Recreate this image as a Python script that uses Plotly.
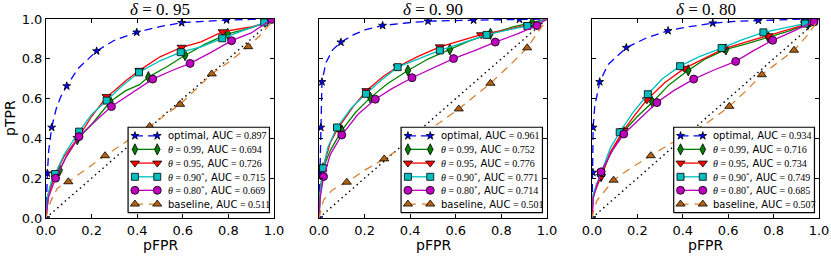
import plotly.graph_objects as go

# ---------------- data ----------------
deltas = ["0.95", "0.90", "0.80"]
series_names = ["optimal", "θ=0.99", "θ=0.95", "θ=0.90*", "θ=0.80*", "baseline"]

auc_p1 = ["0.897", "0.694", "0.726", "0.715", "0.669", "0.511"]
auc_p2 = ["0.961", "0.752", "0.776", "0.771", "0.714", "0.501"]
auc_p3 = ["0.934", "0.716", "0.734", "0.749", "0.685", "0.507"]

# ---- panel 1 (delta = 0.95) ----
p1_opt_x = [0, 0.002, 0.006, 0.012, 0.025, 0.045, 0.065, 0.091, 0.14, 0.222, 0.3, 0.398, 0.5, 0.595, 0.7, 0.792, 0.9, 1.0]
p1_opt_y = [0, 0.12, 0.225, 0.34, 0.455, 0.55, 0.61, 0.663, 0.75, 0.839, 0.893, 0.933, 0.962, 0.981, 0.99, 0.995, 0.998, 1.0]
p1_opt_mx = [0, 0.006, 0.025, 0.091, 0.222, 0.398, 0.595, 0.792]
p1_opt_my = [0, 0.225, 0.455, 0.663, 0.839, 0.933, 0.981, 0.995]

p1_g_x = [0, 0.01, 0.03, 0.06, 0.09, 0.137, 0.2, 0.282, 0.35, 0.41, 0.449, 0.53, 0.61, 0.7, 0.797, 0.9, 1.0]
p1_g_y = [0, 0.12, 0.2, 0.24, 0.31, 0.396, 0.47, 0.585, 0.64, 0.67, 0.708, 0.76, 0.818, 0.875, 0.925, 0.955, 1.0]
p1_g_mx = [0.06, 0.137, 0.282, 0.449, 0.61, 0.797]
p1_g_my = [0.24, 0.396, 0.585, 0.708, 0.818, 0.925]

p1_r_x = [0, 0.01, 0.04, 0.08, 0.139, 0.2, 0.266, 0.3, 0.35, 0.41, 0.5, 0.595, 0.68, 0.775, 0.9, 0.95, 1.0]
p1_r_y = [0, 0.11, 0.22, 0.31, 0.40, 0.51, 0.61, 0.64, 0.69, 0.742, 0.81, 0.858, 0.885, 0.936, 0.96, 0.975, 1.0]
p1_r_mx = [0.04, 0.139, 0.266, 0.41, 0.595, 0.775]
p1_r_my = [0.22, 0.40, 0.61, 0.742, 0.858, 0.936]

p1_c_x = [0, 0.005, 0.02, 0.04, 0.08, 0.145, 0.2, 0.266, 0.33, 0.408, 0.5, 0.591, 0.68, 0.773, 0.88, 0.957, 1.0]
p1_c_y = [0, 0.1, 0.17, 0.221, 0.32, 0.434, 0.52, 0.59, 0.66, 0.732, 0.79, 0.833, 0.86, 0.903, 0.95, 0.983, 1.0]
p1_c_mx = [0.04, 0.145, 0.266, 0.408, 0.591, 0.773, 0.957]
p1_c_my = [0.221, 0.434, 0.59, 0.732, 0.833, 0.903, 0.983]

p1_m_x = [0, 0.01, 0.042, 0.09, 0.145, 0.2, 0.287, 0.38, 0.468, 0.55, 0.632, 0.72, 0.814, 0.9, 0.99, 1.0]
p1_m_y = [0, 0.1, 0.2, 0.31, 0.409, 0.47, 0.56, 0.63, 0.698, 0.74, 0.777, 0.83, 0.891, 0.93, 0.998, 1.0]
p1_m_mx = [0.042, 0.145, 0.287, 0.468, 0.632, 0.814, 0.99]
p1_m_my = [0.2, 0.409, 0.56, 0.698, 0.777, 0.891, 0.998]

p1_b_x = [0, 0.01, 0.023, 0.05, 0.098, 0.18, 0.259, 0.36, 0.455, 0.52, 0.588, 0.66, 0.727, 0.81, 0.887, 0.95, 1.0]
p1_b_y = [0, 0.05, 0.09, 0.15, 0.182, 0.25, 0.313, 0.39, 0.46, 0.515, 0.571, 0.65, 0.724, 0.79, 0.861, 0.93, 1.0]
p1_b_mx = [0.098, 0.259, 0.455, 0.588, 0.727, 0.887]
p1_b_my = [0.182, 0.313, 0.46, 0.571, 0.724, 0.861]

# ---- panel 2 (delta = 0.90) ----
p2_opt_x = [0, 0.003, 0.005, 0.008, 0.013, 0.03, 0.06, 0.096, 0.15, 0.2, 0.279, 0.38, 0.478, 0.678, 0.879, 1.0]
p2_opt_y = [0, 0.15, 0.229, 0.455, 0.684, 0.78, 0.845, 0.883, 0.92, 0.945, 0.967, 0.98, 0.989, 0.994, 0.998, 1.0]
p2_opt_mx = [0, 0.005, 0.008, 0.013, 0.096, 0.279, 0.478, 0.678, 0.879]
p2_opt_my = [0, 0.229, 0.455, 0.684, 0.883, 0.967, 0.989, 0.994, 0.998]

p2_g_x = [0, 0.005, 0.018, 0.05, 0.1, 0.16, 0.225, 0.3, 0.39, 0.48, 0.574, 0.66, 0.752, 0.85, 0.935, 1.0]
p2_g_y = [0, 0.12, 0.25, 0.34, 0.44, 0.53, 0.605, 0.675, 0.741, 0.8, 0.847, 0.89, 0.926, 0.96, 0.982, 1.0]
p2_g_mx = [0.018, 0.1, 0.225, 0.39, 0.574, 0.752, 0.935]
p2_g_my = [0.25, 0.44, 0.605, 0.741, 0.847, 0.926, 0.982]

p2_r_x = [0, 0.005, 0.018, 0.05, 0.083, 0.15, 0.208, 0.28, 0.345, 0.43, 0.53, 0.62, 0.711, 0.82, 0.915, 1.0]
p2_r_y = [0, 0.13, 0.255, 0.38, 0.45, 0.56, 0.64, 0.71, 0.76, 0.81, 0.86, 0.89, 0.921, 0.945, 0.97, 1.0]
p2_r_mx = [0.018, 0.083, 0.208, 0.345, 0.53, 0.711, 0.915]
p2_r_my = [0.255, 0.45, 0.64, 0.76, 0.86, 0.921, 0.97]

p2_c_x = [0, 0.005, 0.018, 0.04, 0.079, 0.14, 0.206, 0.27, 0.345, 0.44, 0.53, 0.63, 0.735, 0.83, 0.914, 1.0]
p2_c_y = [0, 0.13, 0.25, 0.36, 0.455, 0.55, 0.624, 0.69, 0.758, 0.8, 0.842, 0.88, 0.92, 0.945, 0.965, 1.0]
p2_c_mx = [0.018, 0.079, 0.206, 0.345, 0.53, 0.735, 0.914]
p2_c_my = [0.25, 0.455, 0.624, 0.758, 0.842, 0.92, 0.965]

p2_m_x = [0, 0.005, 0.02, 0.05, 0.1, 0.17, 0.247, 0.32, 0.408, 0.5, 0.59, 0.68, 0.773, 0.87, 0.956, 1.0]
p2_m_y = [0, 0.1, 0.208, 0.32, 0.417, 0.52, 0.597, 0.65, 0.705, 0.755, 0.801, 0.84, 0.884, 0.925, 0.967, 1.0]
p2_m_mx = [0.02, 0.1, 0.247, 0.408, 0.59, 0.773, 0.956]
p2_m_my = [0.208, 0.417, 0.597, 0.705, 0.801, 0.884, 0.967]

p2_b_x = [0, 0.01, 0.02, 0.057, 0.122, 0.2, 0.286, 0.37, 0.45, 0.53, 0.613, 0.68, 0.752, 0.83, 0.913, 1.0]
p2_b_y = [0, 0.05, 0.09, 0.14, 0.18, 0.24, 0.297, 0.36, 0.42, 0.48, 0.548, 0.61, 0.677, 0.76, 0.855, 1.0]
p2_b_mx = [0.122, 0.286, 0.45, 0.613, 0.752, 0.913]
p2_b_my = [0.18, 0.297, 0.42, 0.548, 0.677, 0.855]

# ---- panel 3 (delta = 0.80) ----
p3_opt_x = [0, 0.002, 0.004, 0.005, 0.012, 0.034, 0.07, 0.151, 0.24, 0.335, 0.43, 0.532, 0.63, 0.733, 0.83, 0.93, 1.0]
p3_opt_y = [0, 0.12, 0.229, 0.455, 0.56, 0.684, 0.77, 0.856, 0.905, 0.941, 0.962, 0.979, 0.988, 0.993, 0.998, 1.0, 1.0]
p3_opt_mx = [0, 0.004, 0.005, 0.034, 0.151, 0.335, 0.532, 0.733, 0.93]
p3_opt_my = [0, 0.229, 0.455, 0.684, 0.856, 0.941, 0.979, 0.993, 1.0]

p3_g_x = [0, 0.005, 0.02, 0.04, 0.08, 0.139, 0.2, 0.266, 0.34, 0.424, 0.5, 0.59, 0.68, 0.777, 0.87, 0.952, 1.0]
p3_g_y = [0, 0.1, 0.17, 0.21, 0.32, 0.435, 0.51, 0.582, 0.67, 0.742, 0.8, 0.847, 0.875, 0.908, 0.94, 0.975, 1.0]
p3_g_mx = [0.04, 0.139, 0.266, 0.424, 0.59, 0.777, 0.952]
p3_g_my = [0.21, 0.435, 0.582, 0.742, 0.847, 0.908, 0.975]

p3_r_x = [0, 0.005, 0.04, 0.08, 0.139, 0.19, 0.242, 0.32, 0.407, 0.49, 0.58, 0.68, 0.776, 0.87, 0.95, 1.0]
p3_r_y = [0, 0.11, 0.209, 0.33, 0.44, 0.52, 0.594, 0.68, 0.752, 0.8, 0.85, 0.885, 0.916, 0.95, 0.975, 1.0]
p3_r_mx = [0.04, 0.139, 0.242, 0.407, 0.58, 0.776, 0.95]
p3_r_my = [0.209, 0.44, 0.594, 0.752, 0.85, 0.916, 0.975]

p3_c_x = [0, 0.005, 0.04, 0.08, 0.122, 0.18, 0.246, 0.31, 0.388, 0.47, 0.571, 0.66, 0.755, 0.85, 0.938, 1.0]
p3_c_y = [0, 0.12, 0.226, 0.35, 0.431, 0.53, 0.622, 0.7, 0.763, 0.81, 0.854, 0.895, 0.933, 0.955, 0.977, 1.0]
p3_c_mx = [0.04, 0.122, 0.246, 0.388, 0.571, 0.755, 0.938]
p3_c_my = [0.226, 0.431, 0.622, 0.763, 0.854, 0.933, 0.977]

p3_m_x = [0, 0.005, 0.04, 0.09, 0.14, 0.21, 0.286, 0.36, 0.448, 0.54, 0.633, 0.71, 0.796, 0.89, 0.978, 1.0]
p3_m_y = [0, 0.1, 0.232, 0.34, 0.422, 0.5, 0.58, 0.64, 0.698, 0.745, 0.787, 0.84, 0.893, 0.94, 0.985, 1.0]
p3_m_mx = [0.04, 0.14, 0.286, 0.448, 0.633, 0.796, 0.978]
p3_m_my = [0.232, 0.422, 0.58, 0.698, 0.787, 0.893, 0.985]

p3_b_x = [0, 0.01, 0.023, 0.057, 0.095, 0.17, 0.259, 0.34, 0.42, 0.51, 0.605, 0.68, 0.748, 0.82, 0.89, 0.95, 1.0]
p3_b_y = [0, 0.05, 0.09, 0.14, 0.19, 0.25, 0.313, 0.37, 0.42, 0.48, 0.561, 0.64, 0.72, 0.78, 0.843, 0.92, 1.0]
p3_b_mx = [0.095, 0.259, 0.42, 0.605, 0.748, 0.89]
p3_b_my = [0.19, 0.313, 0.42, 0.561, 0.72, 0.843]

diag = [0, 1]
ticks = [0, 0.2, 0.4, 0.6, 0.8, 1.0]
tick_text = ["0.0", "0.2", "0.4", "0.6", "0.8", "1.0"]

# ---------------- styles ----------------
W, H = 831, 256
SERIF = "Liberation Serif"
SANS = "DejaVu Sans"
styles = [
    dict(color="#0000ff", dash="8px,5px", symbol="star", msize=6, mcolor="#0000ff"),
    dict(color="#008000", dash="solid", symbol="diamond-tall", msize=8, mcolor="#008000"),
    dict(color="#ff0000", dash="solid", symbol="triangle-down", msize=8, mcolor="#ff0000"),
    dict(color="#00bfbf", dash="solid", symbol="square", msize=7, mcolor="#00bfbf"),
    dict(color="#bf00bf", dash="solid", symbol="circle", msize=8, mcolor="#bf00bf"),
    dict(color="#d7802f", dash="8px,6px", symbol="triangle-up", msize=8, mcolor="#b5600f"),
]

panels = [
    dict(auc=auc_p1, curves=[(p1_opt_x, p1_opt_y, p1_opt_mx, p1_opt_my), (p1_g_x, p1_g_y, p1_g_mx, p1_g_my),
                             (p1_r_x, p1_r_y, p1_r_mx, p1_r_my), (p1_c_x, p1_c_y, p1_c_mx, p1_c_my),
                             (p1_m_x, p1_m_y, p1_m_mx, p1_m_my), (p1_b_x, p1_b_y, p1_b_mx, p1_b_my)]),
    dict(auc=auc_p2, curves=[(p2_opt_x, p2_opt_y, p2_opt_mx, p2_opt_my), (p2_g_x, p2_g_y, p2_g_mx, p2_g_my),
                             (p2_r_x, p2_r_y, p2_r_mx, p2_r_my), (p2_c_x, p2_c_y, p2_c_mx, p2_c_my),
                             (p2_m_x, p2_m_y, p2_m_mx, p2_m_my), (p2_b_x, p2_b_y, p2_b_mx, p2_b_my)]),
    dict(auc=auc_p3, curves=[(p3_opt_x, p3_opt_y, p3_opt_mx, p3_opt_my), (p3_g_x, p3_g_y, p3_g_mx, p3_g_my),
                             (p3_r_x, p3_r_y, p3_r_mx, p3_r_my), (p3_c_x, p3_c_y, p3_c_mx, p3_c_my),
                             (p3_m_x, p3_m_y, p3_m_mx, p3_m_my), (p3_b_x, p3_b_y, p3_b_mx, p3_b_my)]),
]

# pixel layout of the three plot areas
x_px = [(46, 274), (319, 547), (592, 819)]
y_px = (19, 218)  # top, bottom

SANS_SPAN = f'<span style="font-family:{SANS}">'

def label_html(name, auc):
    # annotation base font is serif (math parts); plain words use a sans span
    if name.startswith("θ"):
        val = name[2:]
        star = ""
        if val.endswith("*"):
            val = val[:-1]
            star = "<sup>*</sup>"
        head = f"<i>θ</i> = {val}{star}{SANS_SPAN}, AUC</span>"
    else:
        head = f"{SANS_SPAN}{name}, AUC</span>"
    return head + f" = {auc}"

fig = go.Figure()
annotations = []
layout_axes = {}

legend_rows = [0.413, 0.345, 0.276, 0.207, 0.139, 0.070]

for i, pnl in enumerate(panels):
    xa = "x" if i == 0 else f"x{i+1}"
    ya = "y" if i == 0 else f"y{i+1}"
    # diagonal reference
    fig.add_trace(go.Scatter(x=diag, y=diag, mode="lines", xaxis=xa, yaxis=ya, showlegend=False,
                             line=dict(color="black", width=1.4, dash="1.5px,3.5px")))
    for k, (cx, cy, mx, my) in enumerate(pnl["curves"]):
        st = styles[k]
        fig.add_trace(go.Scatter(x=cx, y=cy, mode="lines", xaxis=xa, yaxis=ya, showlegend=False,
                                 line=dict(color=st["color"], width=1.3, dash=st["dash"])))
        fig.add_trace(go.Scatter(x=mx, y=my, mode="markers", xaxis=xa, yaxis=ya, showlegend=False,
                                 marker=dict(symbol=st["symbol"], size=st["msize"], color=st["mcolor"],
                                             line=dict(color="black", width=0.8))))
    # manual legend box (drawn on top of the curves)
    fig.add_trace(go.Scatter(x=[0.36, 0.98, 0.98, 0.36, 0.36], y=[0.027, 0.027, 0.456, 0.456, 0.027],
                             mode="lines", fill="toself", fillcolor="white", xaxis=xa, yaxis=ya,
                             showlegend=False, line=dict(color="black", width=1.2)))
    for k, name in enumerate(series_names):
        st = styles[k]
        ry = legend_rows[k]
        fig.add_trace(go.Scatter(x=[0.39, 0.488], y=[ry, ry], mode="lines+markers", xaxis=xa, yaxis=ya,
                                 showlegend=False,
                                 line=dict(color=st["color"], width=1.3, dash=st["dash"]),
                                 marker=dict(symbol=st["symbol"], size=st["msize"], color=st["mcolor"],
                                             line=dict(color="black", width=0.8))))
        annotations.append(dict(x=0.525, y=ry, xref=xa, yref=ya, xanchor="left", yanchor="middle",
                                text=label_html(name, pnl["auc"][k]), showarrow=False,
                                font=dict(family=SERIF, size=10, color="black")))
    # axes
    x0, x1 = x_px[i]
    dom_x = [x0 / W, x1 / W]
    dom_y = [1 - y_px[1] / H, 1 - y_px[0] / H]
    common = dict(range=[0, 1], showgrid=False, zeroline=False, showline=True, linecolor="black",
                  linewidth=1, mirror="ticks", ticks="inside", ticklen=4, tickwidth=1, tickcolor="black",
                  tickvals=ticks, ticktext=tick_text, tickfont=dict(family=SANS, size=13, color="black"),
                  fixedrange=True, automargin=False)
    layout_axes["xaxis" if i == 0 else f"xaxis{i+1}"] = dict(common, domain=dom_x, anchor=ya)
    layout_axes["yaxis" if i == 0 else f"yaxis{i+1}"] = dict(common, domain=dom_y, anchor=xa,
                                                            showticklabels=(i == 0))
    # title
    d = deltas[i]
    annotations.append(dict(x=(x0 + x1) / 2 / W, y=1 - 9 / H, xref="paper", yref="paper",
                            xanchor="center", yanchor="middle", showarrow=False,
                            text=f"<i>δ</i> = {d[:2]} {d[2:]}",
                            font=dict(family=SERIF, size=17, color="black")))
    # x title
    annotations.append(dict(x=(x0 + x1) / 2 / W, y=1 - 245 / H, xref="paper", yref="paper",
                            xanchor="center", yanchor="middle", showarrow=False,
                            text="pFPR", font=dict(family=SANS, size=14, color="black")))

annotations.append(dict(x=10 / W, y=1 - 118 / H, xref="paper", yref="paper", xanchor="center",
                        yanchor="middle", showarrow=False, textangle=-90, text="pTPR",
                        font=dict(family=SANS, size=14, color="black")))

fig.update_layout(width=W, height=H, margin=dict(l=0, r=0, t=0, b=0, pad=0, autoexpand=False),
                  paper_bgcolor="white", plot_bgcolor="white", showlegend=False,
                  annotations=annotations, **layout_axes)

fig.write_html("out.html", config={"displayModeBar": False},
               post_script="document.body.style.margin='0px';document.body.style.overflow='hidden';")
